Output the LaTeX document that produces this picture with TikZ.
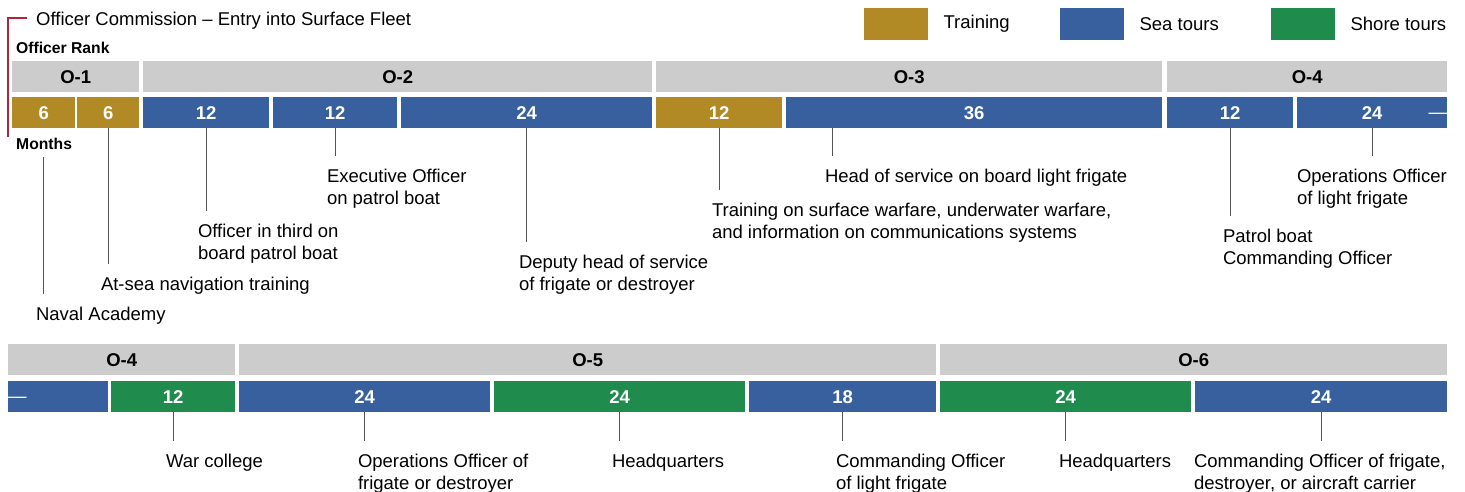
\documentclass[tikz,border=0pt]{standalone}
\usepackage{fontspec}
\setmainfont{Liberation Sans}
\usepackage{xcolor}
\usepackage{tikz}
\usetikzlibrary{positioning}
\definecolor{traingold}{HTML}{B28A25}
\definecolor{seablue}{HTML}{38609E}
\definecolor{shoregreen}{HTML}{1F8B4C}
\definecolor{rankgray}{HTML}{CCCCCC}
\definecolor{leadgray}{HTML}{555555}
\definecolor{bracketred}{HTML}{B3233C}
\newcommand{\lblfont}{\fontsize{18.5}{21.7}\selectfont}
\newcommand{\barfont}{\bfseries\fontsize{18.5}{20}\selectfont}
\newcommand{\headfont}{\bfseries\fontsize{15.7}{18}\selectfont}
\tikzset{
    rankbar/.style={fill=rankgray,font=\barfont,minimum height=31pt,inner sep=0pt,anchor=north west},
    monthbar/.style={font=\barfont,text=white,minimum height=31pt,inner sep=0pt,anchor=north west},
    trainbar/.style={monthbar,fill=traingold},
    seabar/.style={monthbar,fill=seablue},
    shorebar/.style={monthbar,fill=shoregreen},
    keybox/.style={minimum width=64pt,minimum height=32pt,inner sep=0pt,anchor=north west},
    keytext/.style={font=\lblfont,inner sep=0pt,anchor=west},
    duty/.style={font=\lblfont,align=left,inner sep=0pt,outer xsep=0pt,outer ysep=13pt,anchor=north west},
    headtxt/.style={font=\headfont,inner sep=0pt,anchor=base west},
    leader/.style={draw=leadgray,line width=1.2pt},
    bracket/.style={draw=bracketred,line width=2.4pt},
    contmark/.style={font=\lblfont,text=white,inner sep=0pt,yshift=-3pt}
}
\begin{document}
\begin{tikzpicture}[x=1pt,y=-1pt]
    \useasboundingbox (0,0) rectangle (1465,491);

    % title and legend
    \node[font=\lblfont,inner sep=0pt,anchor=base west] (title) at (36,25) {Officer Commission – Entry into Surface Fleet};
    \coordinate (brtop) at (27,18);
    \coordinate (brbot) at (8,137);
    \draw[bracket] (brtop) -- (brtop -| brbot) -- (brbot);
    \node[keybox,fill=traingold] (ktrain) at (864,8) {};
    \node[keytext,right=15pt of ktrain] (ktraintxt) {Training};
    \node[keybox,fill=seablue] (ksea) at (1060,8) {};
    \node[keytext,right=15pt of ksea] (kseatxt) {Sea tours};
    \node[keybox,fill=shoregreen] (kshore) at (1271,8) {};
    \node[keytext,right=15pt of kshore] (kshoretxt) {Shore tours};

    \node[headtxt] (rankhd) at (16,53) {Officer Rank};
    \node[headtxt,outer ysep=8pt] (months) at (16,149) {Months};

    % first row
    \node[rankbar,minimum width=127pt] (r1) at (12,61) {O-1};
    \node[rankbar,minimum width=509pt] (r2) at (143,61) {O-2};
    \node[rankbar,minimum width=506pt] (r3) at (656,61) {O-3};
    \node[rankbar,minimum width=280pt] (r4) at (1167,61) {O-4};

    \node[trainbar,minimum width=63pt] (m1) at (12,97) {6};
    \node[trainbar,minimum width=62pt] (m2) at (77,97) {6};
    \node[seabar,minimum width=126pt] (m3) at (143,97) {12};
    \node[seabar,minimum width=124pt] (m4) at (273,97) {12};
    \node[seabar,minimum width=251pt] (m5) at (401,97) {24};
    \node[trainbar,minimum width=126pt] (m6) at (656,97) {12};
    \node[seabar,minimum width=376pt] (m7) at (786,97) {36};
    \node[seabar,minimum width=126pt] (m8) at (1167,97) {12};
    \node[seabar,minimum width=150pt] (m9) at (1297,97) {24};
    \node[contmark,anchor=mid east] (cont1) at (m9.east) {—};

    \node[duty] (l1) at (36,294) {Naval Academy};
    \node[duty] (l2) at (101,264) {At-sea navigation training};
    \node[duty] (l3) at (198,211) {Officer in third on\\board patrol boat};
    \node[duty] (l4) at (327,156) {Executive Officer\\on patrol boat};
    \node[duty] (l5) at (519,242) {Deputy head of service\\of frigate or destroyer};
    \node[duty] (l6) at (712,190) {Training on surface warfare, underwater warfare,\\and information on communications systems};
    \node[duty] (l7) at (825,156) {Head of service on board light frigate};
    \node[duty] (l8) at (1223,216) {Patrol boat\\Commanding Officer};
    \node[duty] (l9) at (1297,156) {Operations Officer\\of light frigate};

    \draw[leader] (m1.south |- months.south) -- (m1.south |- l1.north);
    \draw[leader] (m2.south) -- (m2.south |- l2.north);
    \draw[leader] (m3.south) -- (m3.south |- l3.north);
    \draw[leader] (m4.south) -- (m4.south |- l4.north);
    \draw[leader] (m5.south) -- (m5.south |- l5.north);
    \draw[leader] (m6.south) -- (m6.south |- l6.north);
    \draw[leader] ([xshift=-142pt]m7.south) -- ([xshift=-142pt]m7.south |- l7.north);
    \draw[leader] (m8.south) -- (m8.south |- l8.north);
    \draw[leader] (m9.south) -- (m9.south |- l9.north);

    % second row
    \node[rankbar,minimum width=227pt] (s1) at (8,344) {O-4};
    \node[rankbar,minimum width=697pt] (s2) at (239,344) {O-5};
    \node[rankbar,minimum width=507pt] (s3) at (940,344) {O-6};

    \node[seabar,minimum width=100pt] (n1) at (8,381) {};
    \node[contmark,anchor=mid west] (cont2) at (n1.west) {—};
    \node[shorebar,minimum width=124pt] (n2) at (111,381) {12};
    \node[seabar,minimum width=251pt] (n3) at (239,381) {24};
    \node[shorebar,minimum width=251pt] (n4) at (494,381) {24};
    \node[seabar,minimum width=187pt] (n5) at (749,381) {18};
    \node[shorebar,minimum width=251pt] (n6) at (940,381) {24};
    \node[seabar,minimum width=252pt] (n7) at (1195,381) {24};

    \node[duty] (b1) at (166,441) {War college};
    \node[duty] (b2) at (358,441) {Operations Officer of\\frigate or destroyer};
    \node[duty] (b3) at (612,441) {Headquarters};
    \node[duty] (b4) at (836,441) {Commanding Officer\\of light frigate};
    \node[duty] (b5) at (1059,441) {Headquarters};
    \node[duty] (b6) at (1194,441) {Commanding Officer of frigate,\\destroyer, or aircraft carrier};

    \draw[leader] (n2.south) -- (n2.south |- b1.north);
    \draw[leader] (n3.south) -- (n3.south |- b2.north);
    \draw[leader] (n4.south) -- (n4.south |- b3.north);
    \draw[leader] (n5.south) -- (n5.south |- b4.north);
    \draw[leader] (n6.south) -- (n6.south |- b5.north);
    \draw[leader] (n7.south) -- (n7.south |- b6.north);
\end{tikzpicture}
\end{document}
